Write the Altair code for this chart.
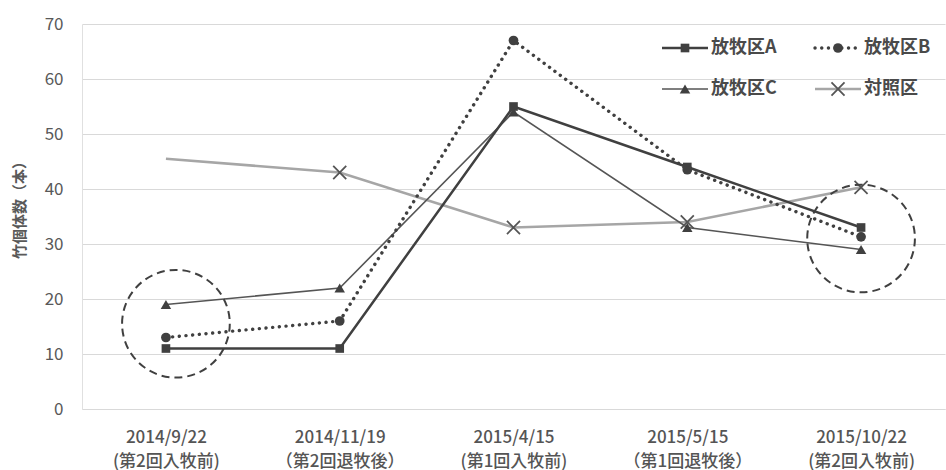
import altair as alt
import pandas as pd

# Survey dates and grazing phase for each survey
dates = ["2014/9/22", "2014/11/19", "2015/4/15", "2015/5/15", "2015/10/22"]
phases = ["(第2回入牧前)", "（第2回退牧後）", "(第1回入牧前)", "（第1回退牧後）", "(第2回入牧前)"]

# Bamboo culm counts per plot
graze_a = [11, 11, 55, 44, 33]
graze_b = [13, 16, 67, 43.5, 31.3]
graze_c = [19, 22, 54, 33, 29]
control = [45.5, 43, 33, 34, 40.3]
control_marked = [False, True, True, True, True]

series_names = ["放牧区A", "放牧区B", "放牧区C", "対照区"]
y_ticks = [0, 10, 20, 30, 40, 50, 60, 70]

# Dashed rings highlighting the pre-grazing surveys
ring_dates = ["2014/9/22", "2015/10/22"]
ring_values = [15.5, 31.0]

FONT = "Noto Sans CJK JP"
cats = [f"{d}|{p}" for d, p in zip(dates, phases)]

x_enc = alt.X(
    "cat:N",
    sort=cats,
    scale=alt.Scale(type="point", padding=0.483),
    axis=alt.Axis(
        title=None,
        labelExpr="split(datum.label, '|')",
        labelAngle=0,
        ticks=False,
        grid=False,
        labelPadding=20,
        labelLineHeight=24,
        labelFontSize=17,
        labelFontWeight=500,
        labelColor="#555555",
        labelFont=FONT,
        domainColor="#d9d9d9",
        domainWidth=1.2,
    ),
)
y_enc = alt.Y(
    "v:Q",
    scale=alt.Scale(domain=[0, 70], nice=False, zero=True),
    axis=alt.Axis(
        values=y_ticks,
        title="竹個体数（本）",
        titleFont=FONT,
        titleFontSize=15,
        titleFontWeight="bold",
        titleColor="#595959",
        titleX=-55,
        titleY=182,
        titleAngle=-90,
        ticks=False,
        labelPadding=19,
        labelFontSize=17,
        labelColor="#595959",
        labelFont=FONT,
        gridColor="#d9d9d9",
        gridWidth=1.2,
        domainColor="#e0e0e0",
    ),
)


def frame(values, marked=None):
    df = pd.DataFrame({"cat": cats, "v": values})
    if marked is not None:
        df = df[pd.Series(marked).values]
    return df


styles = {
    "放牧区A": dict(line=dict(color="#404040", strokeWidth=2.5),
                  point=dict(shape="square", size=75, filled=True, color="#404040")),
    "放牧区B": dict(line=dict(color="#404040", strokeWidth=3.4, strokeDash=[0.1, 6.6], strokeCap="round"),
                  point=dict(shape="circle", size=95, filled=True, color="#404040")),
    "放牧区C": dict(line=dict(color="#555555", strokeWidth=1.6),
                  point=dict(shape="triangle-up", size=110, filled=True, color="#404040")),
    "対照区": dict(line=dict(color="#a6a6a6", strokeWidth=2.5),
                 point=dict(shape="M-1,-1L1,1M-1,1L1,-1", size=170, filled=False,
                            stroke="#555555", strokeWidth=1.8)),
}
values = {"放牧区A": graze_a, "放牧区B": graze_b, "放牧区C": graze_c, "対照区": control}
markers = {"放牧区A": None, "放牧区B": None, "放牧区C": None, "対照区": control_marked}

layers = []
for name in ["対照区", "放牧区C", "放牧区B", "放牧区A"]:
    st = styles[name]
    layers.append(alt.Chart(frame(values[name])).mark_line(**st["line"]).encode(x=x_enc, y=y_enc))
    layers.append(
        alt.Chart(frame(values[name], markers[name]))
        .mark_point(opacity=1, **st["point"])
        .encode(x=x_enc, y=y_enc)
    )

# Dashed highlight rings
ring_shift = [10, 0]
for d, v, dx in zip(ring_dates, ring_values, ring_shift):
    cat = cats[dates.index(d)]
    layers.append(
        alt.Chart(pd.DataFrame({"cat": [cat], "v": [v]}))
        .mark_point(shape="circle", size=11600, filled=False, stroke="#404040",
                    strokeWidth=2, strokeDash=[8, 5], opacity=1, xOffset=dx)
        .encode(x=x_enc, y=y_enc)
    )

# Legend block (two columns x two rows), in plot pixel space
col_x = [580, 733]
row_y = [24, 65]
seg = 46
for i, name in enumerate(series_names):
    cx = col_x[i % 2]
    cy = row_y[i // 2]
    st = styles[name]
    one = pd.DataFrame({"label": [name]})
    layers.append(
        alt.Chart(one).mark_rule(**st["line"]).encode(
            x=alt.value(cx), x2=alt.value(cx + seg), y=alt.value(cy)
        )
    )
    layers.append(
        alt.Chart(one).mark_point(opacity=1, **st["point"]).encode(
            x=alt.value(cx + seg / 2), y=alt.value(cy)
        )
    )
    layers.append(
        alt.Chart(one).mark_text(align="left", baseline="middle", font=FONT, fontSize=18,
                                 fontWeight="bold", color="#4a4a4a", dx=3).encode(
            x=alt.value(cx + seg), y=alt.value(cy), text="label:N"
        )
    )

chart = (
    alt.layer(*layers)
    .properties(
        width=863,
        height=385,
        autosize=alt.AutoSizeParams(type="none"),
        padding={"left": 82, "top": 24, "right": 1, "bottom": 61},
        background="white",
    )
    .configure_view(stroke=None)
)

chart.save("out.html", embed_options={"renderer": "svg", "actions": False})
